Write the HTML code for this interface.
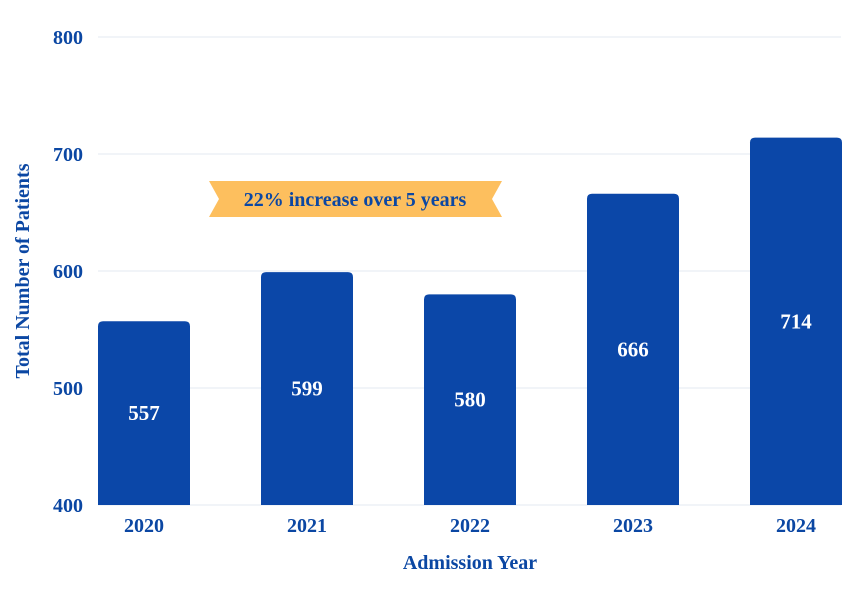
<!DOCTYPE html>
<html><head><meta charset="utf-8"><style>
body{margin:0;background:#fff}
svg{display:block;font-family:"Liberation Serif",serif;font-weight:bold}
</style></head><body>
<svg id="c" width="858" height="593"></svg>
<script>
const categories=["2020","2021","2022","2023","2024"];
const values=[557,599,580,666,714];
const yTicks=[400,500,600,700,800];
const NS="http://www.w3.org/2000/svg";
const svg=document.getElementById('c');
const y=v=>505-(v-400)*1.17;
const xc=i=>144+i*163;
function mk(t,a,txt){const e=document.createElementNS(NS,t);for(const k in a)e.setAttribute(k,a[k]);if(txt!=null)e.textContent=txt;svg.appendChild(e);return e;}
yTicks.forEach(t=>{
 const g=mk('line',{x1:98,x2:841,y1:y(t),y2:y(t),stroke:'#e3e8f0','stroke-width':1});
 
 
 const l=mk('text',{x:83,y:y(t)+7,'text-anchor':'end','font-size':20,fill:'#0b47a3'},t);
 
 
});
categories.forEach((c,i)=>{
 const top=y(values[i]),x0=xc(i)-46,w=92,r=5,b=505;
 const p=mk('path',{d:`M${x0},${b}V${top+r}Q${x0},${top} ${x0+r},${top}H${x0+w-r}Q${x0+w},${top} ${x0+w},${top+r}V${b}Z`,fill:'#0b47a8'});
 
 
 const v=mk('text',{x:xc(i),y:(top+b)/2+7,'text-anchor':'middle','font-size':21,fill:'#fff'},values[i]);
 
 
 const t=mk('text',{x:xc(i),y:532,'text-anchor':'middle','font-size':20,fill:'#0b47a3'},c);
 
 
});
const xt=mk('text',{x:470,y:569,'text-anchor':'middle','font-size':20,fill:'#0b47a3'},'Admission Year');


const yt=mk('text',{x:0,y:0,transform:'translate(29,271) rotate(-90)','text-anchor':'middle','font-size':20,fill:'#0b47a3'},'Total Number of Patients');


const bn=mk('polygon',{points:'209,181 502,181 492,199 502,217 209,217 219,199',fill:'#fdbf5e'});


const bt=mk('text',{x:355,y:206,'text-anchor':'middle','font-size':20,fill:'#0b47a3'},'22% increase over 5 years');


</script>
</body></html>
